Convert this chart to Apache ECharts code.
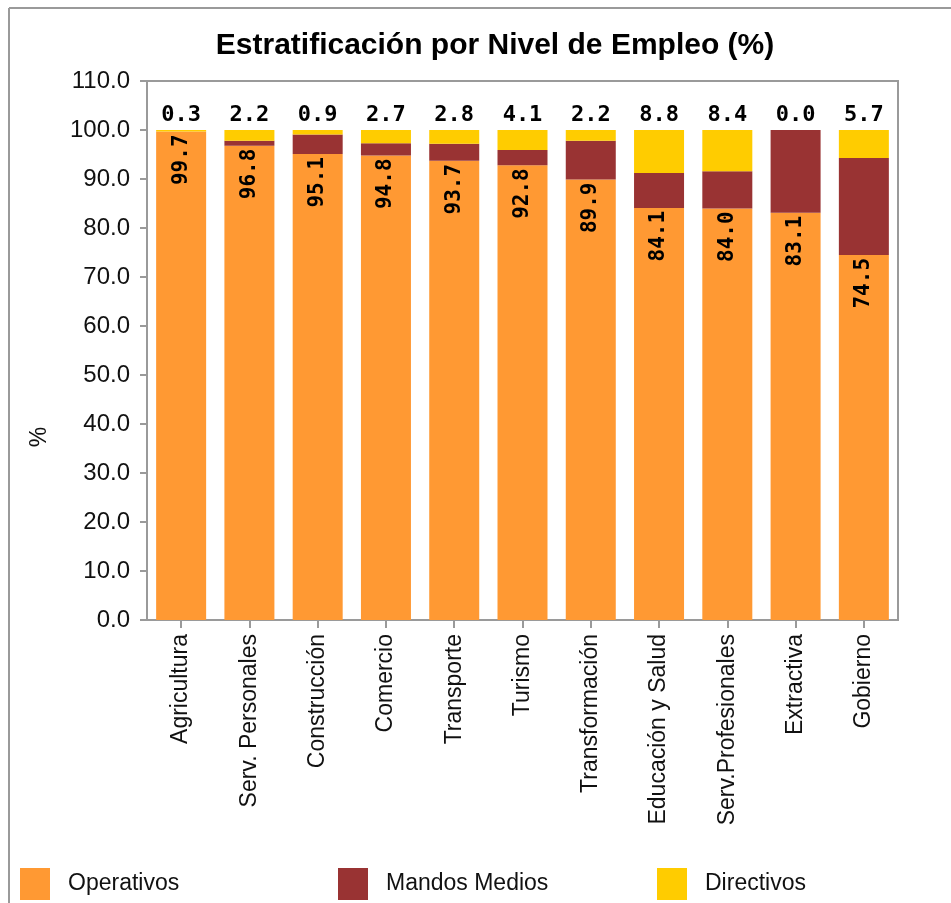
<!DOCTYPE html>
<html>
<head>
<meta charset="utf-8">
<script src="https://cdn.jsdelivr.net/npm/echarts@6/dist/echarts.min.js"></script>
<style>
html,body{margin:0;padding:0;background:#fff;}
#chart{width:951px;height:903px;}
</style>
</head>
<body>
<div id="chart"></div>
<script>
const categories = ['Agricultura','Serv. Personales','Construcción','Comercio','Transporte','Turismo','Transformación','Educación y Salud','Serv.Profesionales','Extractiva','Gobierno'];
const operativos = [99.7, 96.8, 95.1, 94.8, 93.7, 92.8, 89.9, 84.1, 84.0, 83.1, 74.5];
const mandosMedios = [0.0, 1.0, 4.0, 2.5, 3.5, 3.1, 7.9, 7.1, 7.6, 16.9, 19.8];
const directivos = [0.3, 2.2, 0.9, 2.7, 2.8, 4.1, 2.2, 8.8, 8.4, 0.0, 5.7];
const seriesNames = ['Operativos','Mandos Medios','Directivos'];
const colors = ['#FF9933','#993333','#FFCC00'];

const chart = echarts.init(document.getElementById('chart'), null, {renderer:'canvas'});
const monoLabel = {fontFamily:'DejaVu Sans Mono', fontWeight:'bold', fontSize:21, color:'#000'};
const legendText = {fontFamily:'Liberation Sans', fontSize:23, color:'#111', padding:[0,0,0,13]};
function legendAt(name, left){
  return {data:[name], left:left, top:868, padding:0, itemWidth:30, itemHeight:32, icon:'rect', textStyle:legendText, selectedMode:false};
}
chart.setOption({
  animation:false,
  color: colors,
  title:{
    text:'Estratificación por Nivel de Empleo (%)',
    left:490, top:26, textAlign:'center',
    textStyle:{fontFamily:'Liberation Sans', fontWeight:'bold', fontSize:30, color:'#000'}
  },
  legend:[legendAt(seriesNames[0],20), legendAt(seriesNames[1],338), legendAt(seriesNames[2],657)],
  grid:{left:147, right:53, top:81, bottom:283, show:true, borderColor:'#9a9a9a', borderWidth:2, backgroundColor:'#fff'},
  xAxis:{
    type:'category', data:categories,
    axisLine:{show:false},
    axisTick:{show:true, alignWithLabel:true, length:8, lineStyle:{color:'#9a9a9a', width:2}},
    axisLabel:{rotate:90, margin:14, fontFamily:'Liberation Sans', fontSize:23, color:'#111', interval:0}
  },
  yAxis:{
    type:'value', min:0, max:110, interval:10,
    splitLine:{show:false},
    axisLine:{show:false},
    axisTick:{show:true, length:7, lineStyle:{color:'#9a9a9a', width:2}},
    axisLabel:{margin:17, fontFamily:'Liberation Sans', fontSize:24, color:'#111', formatter:v=>v.toFixed(1)}
  },
  graphic:[
    {type:'line', shape:{x1:9, y1:8, x2:951, y2:8}, style:{stroke:'#9a9a9a', lineWidth:2}},
    {type:'line', shape:{x1:9, y1:8, x2:9, y2:903}, style:{stroke:'#9a9a9a', lineWidth:2}},
    {type:'text', x:40, y:437, rotation:Math.PI/2, style:{text:'%', fontFamily:'Liberation Sans', fontSize:23, fill:'#111', align:'center', verticalAlign:'middle'}}
  ],
  series:[
    {name:seriesNames[0], type:'bar', stack:'t', barWidth:50, data:operativos,
     label:{show:true, position:'insideTop', distance:3, rotate:90, align:'right', verticalAlign:'middle', formatter:p=>p.value.toFixed(1), ...monoLabel}},
    {name:seriesNames[1], type:'bar', stack:'t', barWidth:50, data:mandosMedios},
    {name:seriesNames[2], type:'bar', stack:'t', barWidth:50, data:directivos,
     label:{show:true, position:'top', distance:4, formatter:p=>p.value.toFixed(1), ...monoLabel, fontSize:22}}
  ]
});
</script>
</body>
</html>
